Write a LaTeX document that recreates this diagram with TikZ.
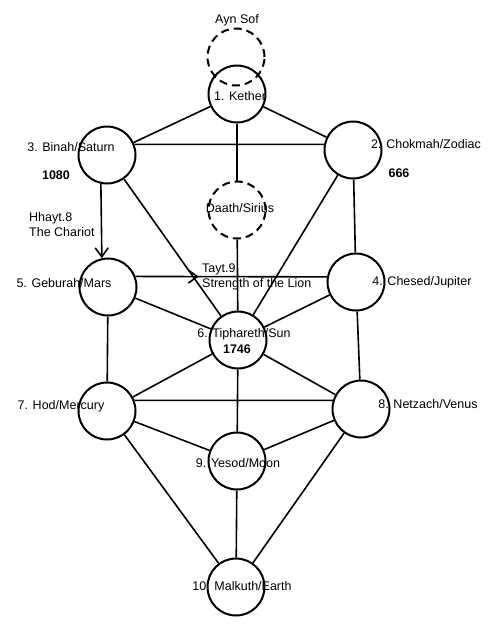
\documentclass[tikz,border=0pt]{standalone}
\usepackage{fontspec}
\setmainfont{Liberation Sans}
\usetikzlibrary{arrows.meta, decorations.markings}

\begin{document}
\begin{tikzpicture}[x=1pt, y=-1pt,
            sefira/.style={circle, draw, line width=2pt, minimum size=57pt, inner sep=0pt},
            veiled/.style={sefira, dash pattern=on 8pt off 5pt},
            lbl/.style={inner sep=0pt, font=\fontsize{12.5}{15}\selectfont},
            num/.style={inner sep=0pt, font=\fontsize{12.5}{15}\selectfont\bfseries},
            link/.style={line width=1.6pt},
            barb/.style={-{Straight Barb[length=9pt, width=13pt]}}]
            \fill[white] (0,0) rectangle (500,633);

            \node[veiled] at (236, 57)  (aynsof) {};
            \node[sefira] at (237, 94)  (kether) {};
            \node[sefira] at (353, 150) (chokmah) {};
            \node[sefira] at (107, 155) (binah) {};
            \node[veiled] at (237, 210) (daath) {};
            \node[sefira] at (356, 282) (chesed) {};
            \node[sefira] at (108, 287) (geburah) {};
            \node[sefira] at (238, 340) (tiphareth) {};
            \node[sefira] at (361, 409) (netzach) {};
            \node[sefira] at (107, 411) (hod) {};
            \node[sefira] at (237, 461) (yesod) {};
            \node[sefira] at (236, 587) (malkuth) {};

            \draw [link] (kether) -- (binah);
            \draw [link] (kether) -- (chokmah);
            \draw [link] (kether) -- (daath);
            \draw [link] (binah.21) -- (chokmah.169);
            \draw [link] (binah) -- (tiphareth);
            \draw [link] (chokmah) -- (chesed);
            \draw [link] (chokmah) -- (tiphareth);
            \draw [link] (daath) -- (tiphareth);
            \draw [link, barb] (binah.258) -- (geburah.102);
            \draw [link, decoration={markings,
                mark=at position 0.33 with {\arrow{Straight Barb[length=9pt, width=13pt]}}},
                postaction={decorate}] (geburah.21) -- (chesed.170);
            \draw [link] (geburah) -- (tiphareth);
            \draw [link] (chesed) -- (tiphareth);
            \draw [link] (geburah) -- (hod);
            \draw [link] (chesed) -- (netzach);
            \draw [link] (tiphareth) -- (hod);
            \draw [link] (tiphareth) -- (netzach);
            \draw [link] (tiphareth) -- (yesod);
            \draw [link] (hod.21) -- (netzach.163);
            \draw [link] (hod) -- (yesod);
            \draw [link] (netzach) -- (yesod);
            \draw [link] (hod) -- (malkuth);
            \draw [link] (netzach) -- (malkuth);
            \draw [link] (yesod) -- (malkuth);

            \node[lbl] at (237, 20)  (aynsoflbl) {Ayn Sof};
            \node[lbl] at (240, 96)  (ketherlbl) {1. Kether};
            \node[lbl] at (426, 144) (chokmahlbl) {2. Chokmah/Zodiac};
            \node[num] at (399, 173) (chokmahnum) {666};
            \node[lbl] at (71, 147)  (binahlbl) {3. Binah/Saturn};
            \node[num] at (56, 175)  (binahnum) {1080};
            \node[lbl] at (240, 208) (daathlbl) {Daath/Sirius};
            \node[lbl, align=left, anchor=west] at (29, 225) (hhayt) {Hhayt.8\\The Chariot};
            \node[lbl] at (422, 282) (chesedlbl) {4. Chesed/Jupiter};
            \node[lbl] at (64, 283)  (geburahlbl) {5. Geburah/Mars};
            \node[lbl, align=left, anchor=west] at (202, 277) (tayt) {Tayt.9\\Strength of the Lion};
            \node[lbl] at (244, 334) (tipharethlbl) {6. Tiphareth/Sun};
            \node[num] at (237, 349) (tipharethnum) {1746};
            \node[lbl] at (61, 406)  (hodlbl) {7. Hod/Mercury};
            \node[lbl] at (428, 404) (netzachlbl) {8. Netzach/Venus};
            \node[lbl] at (238, 463) (yesodlbl) {9. Yesod/Moon};
            \node[lbl] at (242, 586) (malkuthlbl) {10. Malkuth/Earth};
        \end{tikzpicture}
\end{document}
